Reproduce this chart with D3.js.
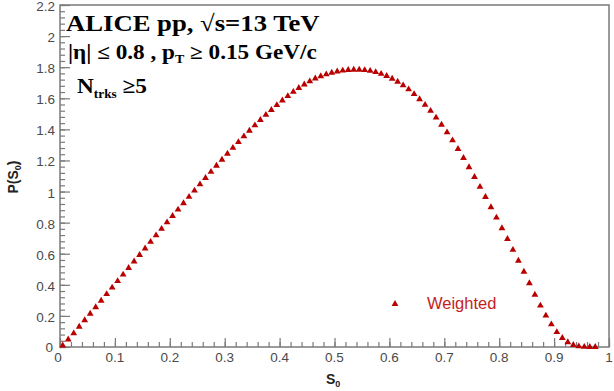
<!DOCTYPE html>
<html>
<head>
<meta charset="utf-8">
<script src="https://cdn.jsdelivr.net/npm/d3@7"></script>
<style>
  html, body { margin: 0; padding: 0; background: #fff; }
  svg { display: block; }
</style>
</head>
<body>
<svg id="chart" width="614" height="391"></svg>
<script>
// Bin centres of S0 (bin width 0.01)
const s0Centers = d3.range(0, 98).map(i => +(0.005 + 0.01 * i).toFixed(3));

// P(S0) per bin, weighted
const weighted = [
  0.010, 0.048, 0.088, 0.130, 0.172, 0.214, 0.256, 0.298, 0.340, 0.382,
  0.424, 0.466, 0.508, 0.550, 0.592, 0.634, 0.676, 0.718, 0.760, 0.802,
  0.843, 0.884, 0.925, 0.966, 1.006, 1.046, 1.087, 1.127, 1.166, 1.205,
  1.243, 1.281, 1.318, 1.355, 1.391, 1.426, 1.460, 1.493, 1.525, 1.556,
  1.586, 1.614, 1.641, 1.666, 1.689, 1.709, 1.727, 1.742, 1.754, 1.764,
  1.772, 1.778, 1.782, 1.784, 1.784, 1.781, 1.776, 1.768, 1.757, 1.743,
  1.726, 1.706, 1.683, 1.657, 1.627, 1.594, 1.558, 1.519, 1.476, 1.430,
  1.381, 1.329, 1.274, 1.216, 1.156, 1.094, 1.030, 0.965, 0.899, 0.832,
  0.764, 0.695, 0.625, 0.555, 0.484, 0.410, 0.336, 0.266, 0.202, 0.146,
  0.096, 0.058, 0.031, 0.013, 0.004, 0.001, 0.000, 0.000
];

const xTicks = [0, 0.1, 0.2, 0.3, 0.4, 0.5, 0.6, 0.7, 0.8, 0.9, 1];
const xTickLabels = ["0", "0.1", "0.2", "0.3", "0.4", "0.5", "0.6", "0.7", "0.8", "0.9", "1"];
const yTicks = [0, 0.2, 0.4, 0.6, 0.8, 1, 1.2, 1.4, 1.6, 1.8, 2, 2.2];
const yTickLabels = ["0", "0.2", "0.4", "0.6", "0.8", "1", "1.2", "1.4", "1.6", "1.8", "2", "2.2"];

const svg = d3.select("#chart");
const frame = { left: 60, right: 609, top: 5, bottom: 347 };

const x = d3.scaleLinear().domain([0, 1]).range([frame.left, frame.right]);
const y = d3.scaleLinear().domain([0, 2.2]).range([frame.bottom, frame.top]);

const axisColor = "#7a7a7a";
const labelColor = "#4a4a4a";

// Frame
svg.append("rect")
  .attr("x", frame.left).attr("y", frame.top)
  .attr("width", frame.right - frame.left).attr("height", frame.bottom - frame.top)
  .attr("fill", "none").attr("stroke", axisColor).attr("stroke-width", 1.5);

// X axis: major ticks every 0.1, minor every 0.02
const xMinor = d3.range(0, 51).map(i => i * 0.02);
const xAxisMinor = d3.axisTop(x).tickValues(xMinor).tickSize(5).tickFormat("");
const xAxisMajor = d3.axisTop(x).tickValues(xTicks).tickSize(9).tickFormat("");
[xAxisMinor, xAxisMajor].forEach(ax => {
  const g = svg.append("g").attr("transform", `translate(0,${frame.bottom})`).call(ax);
  g.select(".domain").remove();
  g.selectAll("line").attr("stroke", axisColor).attr("stroke-width", 1.2);
});
svg.append("g").selectAll("text").data(xTicks).join("text")
  .attr("x", (d, i) => x(d) + (i === 0 ? -2 : 0))
  .attr("y", 362)
  .attr("text-anchor", "middle")
  .attr("font-family", "Liberation Sans, Arial, sans-serif")
  .attr("font-size", 13.5)
  .attr("fill", labelColor)
  .text((d, i) => xTickLabels[i]);

// Y axis: major ticks every 0.2, minor every 0.04
const yMinor = d3.range(0, 56).map(i => i * 0.04);
const yAxisMinor = d3.axisRight(y).tickValues(yMinor).tickSize(5).tickFormat("");
const yAxisMajor = d3.axisRight(y).tickValues(yTicks).tickSize(10).tickFormat("");
[yAxisMinor, yAxisMajor].forEach(ax => {
  const g = svg.append("g").attr("transform", `translate(${frame.left},0)`).call(ax);
  g.select(".domain").remove();
  g.selectAll("line").attr("stroke", axisColor).attr("stroke-width", 1.2);
});
svg.append("g").selectAll("text").data(yTicks).join("text")
  .attr("x", (d, i) => i === 0 ? 53 : 55)
  .attr("y", (d, i) => y(d) + (i === 0 ? 4.5 : 6))
  .attr("text-anchor", "end")
  .attr("font-family", "Liberation Sans, Arial, sans-serif")
  .attr("font-size", 13.5)
  .attr("fill", labelColor)
  .text((d, i) => yTickLabels[i]);

// Axis titles
const yTitle = svg.append("text")
  .attr("transform", "translate(18,177) rotate(-90)")
  .attr("text-anchor", "middle")
  .attr("font-family", "Liberation Sans, Arial, sans-serif")
  .attr("font-weight", "bold").attr("font-size", 14).attr("fill", "#222");
yTitle.append("tspan").text("P(S");
yTitle.append("tspan").attr("font-size", 9).attr("dy", 3).text("0");
yTitle.append("tspan").attr("dy", -3).text(")");

const xTitle = svg.append("text")
  .attr("x", 326).attr("y", 384)
  .attr("font-family", "Liberation Sans, Arial, sans-serif")
  .attr("font-weight", "bold").attr("font-size", 14).attr("fill", "#222");
xTitle.append("tspan").text("S");
xTitle.append("tspan").attr("font-size", 9).attr("dy", 3).text("0");

// Data markers: filled upward triangles
const tri = d3.symbol().type(d3.symbolTriangle).size(20);
svg.append("g").selectAll("path")
  .data(s0Centers.map((s, i) => [s, weighted[i]]))
  .join("path")
  .attr("d", tri)
  .attr("transform", d => `translate(${x(d[0])},${y(d[1])})`)
  .attr("fill", "#b80000");

// Legend
svg.append("path").attr("d", tri).attr("transform", "translate(395,304)").attr("fill", "#b80000");
svg.append("text")
  .attr("x", 427).attr("y", 309)
  .attr("font-family", "Liberation Sans, Arial, sans-serif")
  .attr("font-size", 16.5).attr("fill", "#c41e1e")
  .text("Weighted");

// Labels (serif, slightly widened)
const serif = "Liberation Serif, Times New Roman, serif";
svg.append("g").attr("transform", "translate(66,31) scale(1.16,1)")
  .append("text")
  .attr("font-family", serif).attr("font-weight", "bold").attr("font-size", 23)
  .text("ALICE pp, √s=13 TeV");

const l2 = svg.append("g").attr("transform", "translate(68,59) scale(1.16,1)")
  .append("text")
  .attr("font-family", serif).attr("font-weight", "bold").attr("font-size", 20);
l2.append("tspan").text("|η| ≤ 0.8 , p");
l2.append("tspan").attr("font-size", 12).attr("dy", 4).text("T");
l2.append("tspan").attr("dy", -4).text(" ≥ 0.15 GeV/c");

const l3 = svg.append("g").attr("transform", "translate(77,93) scale(1.11,1)")
  .append("text")
  .attr("font-family", serif).attr("font-weight", "bold").attr("font-size", 21);
l3.append("tspan").text("N");
l3.append("tspan").attr("font-size", 12).attr("dy", 5).text("trks");
l3.append("tspan").attr("dy", -5).text(" ≥5");
</script>
</body>
</html>
